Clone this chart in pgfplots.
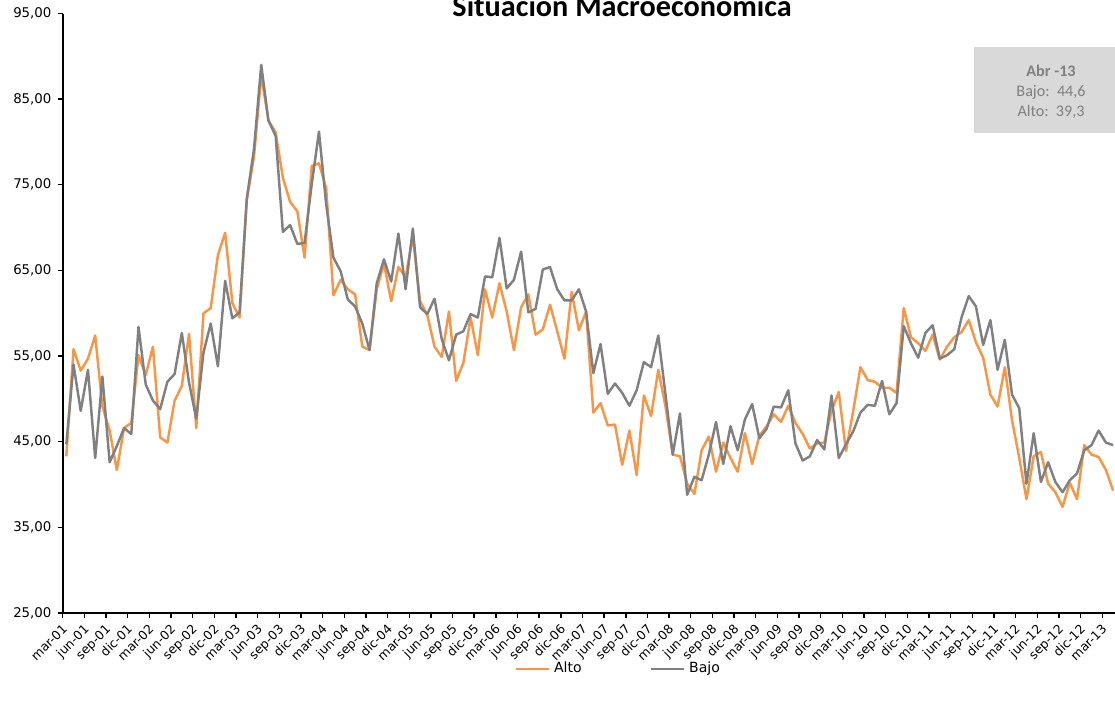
\documentclass[border=0pt]{standalone}
\usepackage{fontspec}
\setmainfont{DejaVu Sans}
\newfontfamily\calibri{Carlito}
\usepackage{pgfplots}
\pgfplotsset{compat=1.18}
\usepackage{pgfplotstable}

\definecolor{alto}{HTML}{F79646}
\definecolor{bajo}{HTML}{808080}
\definecolor{caja}{HTML}{D9D9D9}

% i = months since mar-01
\pgfplotstableread{
i alto bajo
0 43.3 44.7
1 55.8 54.0
2 53.3 48.6
3 54.7 53.4
4 57.4 43.1
5 49.1 52.6
6 46.3 42.6
7 41.7 44.5
8 46.6 46.6
9 47.2 45.9
10 55.1 58.4
11 52.8 51.7
12 56.1 49.8
13 45.5 48.8
14 44.9 52.0
15 49.8 52.9
16 51.5 57.7
17 57.6 51.9
18 46.6 47.7
19 60.0 55.4
20 60.6 58.8
21 66.8 53.8
22 69.4 63.8
23 61.2 59.4
24 59.5 60.1
25 73.2 73.4
26 78.3 79.2
27 87.8 89.0
28 82.5 82.5
29 81.1 80.7
30 75.8 69.5
31 73.0 70.3
32 71.9 68.1
33 66.5 68.2
34 77.2 75.1
35 77.5 81.2
36 74.6 72.7
37 62.1 66.5
38 63.9 64.9
39 62.8 61.6
40 62.2 60.8
41 56.1 58.8
42 55.7 55.7
43 62.8 63.5
44 65.8 66.3
45 61.4 63.7
46 65.4 69.3
47 64.2 62.8
48 69.0 69.9
49 61.4 60.7
50 59.8 59.9
51 56.1 61.7
52 54.9 57.0
53 60.2 54.5
54 52.1 57.5
55 54.2 57.9
56 59.5 59.9
57 55.1 59.5
58 62.8 64.3
59 59.5 64.2
60 63.5 68.8
61 60.2 62.9
62 55.7 63.9
63 60.7 67.2
64 62.2 60.1
65 57.5 60.5
66 58.1 65.1
67 61.0 65.4
68 57.9 62.8
69 54.7 61.5
70 62.5 61.5
71 58.0 62.8
72 60.2 60.2
73 48.4 53.0
74 49.5 56.4
75 46.9 50.6
76 47.0 51.8
77 42.3 50.7
78 46.3 49.2
79 41.1 51.0
80 50.4 54.3
81 48.0 53.7
82 53.4 57.4
83 49.1 50.5
84 43.5 43.5
85 43.3 48.3
86 40.1 38.8
87 38.9 40.9
88 44.0 40.5
89 45.6 43.5
90 41.5 47.3
91 44.9 42.4
92 43.1 46.8
93 41.5 44.0
94 46.0 47.6
95 42.4 49.4
96 45.7 45.4
97 46.8 46.5
98 48.2 49.1
99 47.3 49.0
100 49.2 51.0
101 47.2 44.8
102 45.9 42.8
103 44.2 43.3
104 44.8 45.2
105 44.9 44.1
106 48.6 50.4
107 50.8 43.1
108 43.9 44.7
109 48.6 46.2
110 53.7 48.4
111 52.2 49.3
112 52.0 49.2
113 51.3 52.1
114 51.3 48.2
115 50.7 49.5
116 60.6 58.5
117 57.2 56.5
118 56.5 54.8
119 55.6 57.7
120 57.5 58.6
121 54.6 54.7
122 56.1 55.1
123 57.2 55.8
124 57.8 59.5
125 59.2 62.0
126 56.6 60.8
127 54.8 56.3
128 50.5 59.2
129 49.1 53.4
130 53.7 56.9
131 47.5 50.5
132 43.1 48.9
133 38.3 40.1
134 43.3 46.0
135 43.8 40.3
136 40.1 42.6
137 39.1 40.3
138 37.4 39.1
139 40.2 40.5
140 38.3 41.3
141 44.6 44.0
142 43.5 44.6
143 43.2 46.3
144 41.7 44.9
145 39.3 44.6
}\datos

\begin{document}
\begin{tikzpicture}
\begin{axis}[
    name=ax,
    scale only axis,
    width=21.08cm, height=11.99cm,
    xmin=-0.5, xmax=145.5,
    ymin=25, ymax=95,
    clip=false,
    axis lines=left,
    axis line style={line width=1.1pt, -},
    tick align=outside,
    major tick length=0.1cm,
    minor tick length=0.1cm,
    ytick={25,35,...,95},
    yticklabel style={font=\fontsize{7.6}{9}\selectfont,
        /pgf/number format/fixed,
        /pgf/number format/fixed zerofill,
        /pgf/number format/precision=2,
        /pgf/number format/use comma,
        /pgf/number format/assume math mode=true},
    ytick style={black, line width=0.8pt},
    xtick={0,3,...,144},
    xticklabels={mar-01,jun-01,sep-01,dic-01,mar-02,jun-02,sep-02,dic-02,
        mar-03,jun-03,sep-03,dic-03,mar-04,jun-04,sep-04,dic-04,
        mar-05,jun-05,sep-05,dic-05,mar-06,jun-06,sep-06,dic-06,
        mar-07,jun-07,sep-07,dic-07,mar-08,jun-08,sep-08,dic-08,
        mar-09,jun-09,sep-09,dic-09,mar-10,jun-10,sep-10,dic-10,
        mar-11,jun-11,sep-11,dic-11,mar-12,jun-12,sep-12,dic-12,mar-13},
    major x tick style={draw=none},
    minor xtick={-0.5,2.5,...,143.5},
    minor x tick style={black, line width=0.8pt},
    xticklabel style={xshift=-0.1cm, yshift=-0.05cm, rotate=45,
        anchor=north east, inner sep=1pt,
        font=\fontsize{7.1}{9}\selectfont},
    legend columns=2,
    legend style={at={(0.528,-0.093)}, anchor=center, draw=none, fill=none,
        font=\fontsize{8}{10}\selectfont,
        /tikz/every even column/.append style={column sep=1.3cm}},
    legend image code/.code={\draw[#1] (0cm,0cm) -- (0.66cm,0cm);},
]
\addplot[alto, line width=1.4pt, line join=round] table[x=i, y=alto]{\datos};
\addplot[bajo, line width=1.4pt, line join=round] table[x=i, y=bajo]{\datos};
\legend{Alto, Bajo}

\fill[caja] (rel axis cs:0.865,0.801) rectangle (rel axis cs:1.03,0.944);
\node[align=center, text=bajo, font=\calibri\fontsize{9.2}{11.4}\selectfont]
    at (rel axis cs:0.9377,0.869) {\textbf{Abr -13}\\Bajo:\ \ 44,6\\Alto:\ \ 39,3};
\node[anchor=base, yshift=-0.05cm, font=\calibri\bfseries\fontsize{17.2}{20}\selectfont]
    at (rel axis cs:0.5307,1) {Situación Macroeconómica};
\end{axis}
\pgfresetboundingbox
\useasboundingbox ([xshift=-1.254cm, yshift=-1.88cm]ax.south west)
    rectangle ([xshift=-0.034cm, yshift=0.27cm]ax.north east);
\end{tikzpicture}
\end{document}
